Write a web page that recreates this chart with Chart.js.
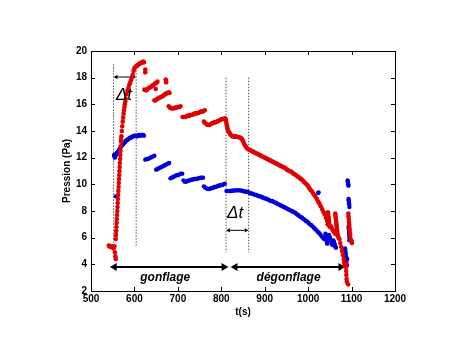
<!DOCTYPE html>
<html><head><meta charset="utf-8">
<script src="https://cdn.jsdelivr.net/npm/chart.js@4/dist/chart.umd.min.js"></script>
<style>html,body{margin:0;padding:0;background:#fff}canvas{display:block}</style>
</head><body>
<canvas id="c" width="474" height="355"></canvas>
<script>
// ---------- data ----------
const redT = [541,543,545,547,549,551,552,554,555,556,557,
 557,557.5,558,558.5,559,559.5,560,560.5,561,561.5,562,562.5,563,563.5,564,564.5,565,565.5,566,566.5,567,567.5,568,568.5,569,569.5,
 570,571,572,573,574,575,576,577,578,579,580,
 582,584,586,588,590,592,594,596,598,600,602,604,606,608,610,612,614,616,618,620,622,
 625,625,
 623,626,629,632,635,638,641,644,647,650,653,649,
 646,649,652,655,658,661,664,667,670,673,676,679,681,672,673,673,
 679,682,685,688,691,694,697,700,703,706,
 711,714,717,720,723,726,729,732,735,738,741,744,747,750,753,756,759,762,
 760,763,766,769,772,775,778,781,784,787,790,793,796,799,802,805,808,
 810,811,812,813,814,815,816,818,820,822,
 825,828,831,834,837,840,843,846,848,850,852,854,856,858,861,864,867,870,873,876,879,882,885,888,891,894,897,900,903,906,909,912,915,918,921,924,927,930,933,936,939,942,945,948,951,954,957,960,963,966,969,972,975,978,981,984,987,990,993,996,999,1002,1005,1008,1011,1014,1017,1020,1023,1026,1029,1032,1035,1038,1041,1044,
 1045,1045.5,1046,1046.5,1047,1047.5,1048,1048.5,1049,
 1050,1052,1054,1056,1058,1060,
 1062,1062.5,1063,1063.5,1064,1064.5,1065,1065.5,1066,1066.5,1067,1067.5,1068,
 1070,1072,1074,1076,1078,1080,1082,1083,1084,1085,1086,1086.5,1087,1087.5,1088,1088.5,1089,
 1092,1092.5,1093,1093.5,1094,1094.5,1095,1095.5,1096,1097,1098,1099,1100,1101];
const redP = [5.4,5.35,5.3,5.35,5.3,5.25,5.2,5.35,4.9,4.6,4.4,
 5.9,6.2,6.5,6.8,7.1,7.4,7.7,8.0,8.3,8.6,8.9,9.2,9.5,9.8,10.1,10.4,10.7,11.0,11.3,11.6,11.9,12.2,12.5,12.85,13.2,13.4,
 13.6,14.0,14.35,14.7,15.0,15.3,15.55,15.8,16.0,16.2,16.4,
 16.75,17.0,17.2,17.45,17.6,17.8,18.0,18.2,18.5,18.7,18.8,18.85,18.9,18.95,19.0,19.05,19.1,19.1,19.15,19.2,19.15,
 18.4,18.6,
 17.1,17.05,17.1,17.2,17.25,17.3,17.4,17.45,17.55,17.6,17.7,17.15,
 16.3,16.3,16.4,16.45,16.5,16.55,16.6,16.65,16.75,16.8,16.85,16.9,16.85,17.85,17.65,17.75,
 15.85,15.75,15.7,15.7,15.7,15.75,15.75,15.8,15.8,15.85,
 15.05,15.05,15.05,15.1,15.15,15.15,15.2,15.2,15.25,15.3,15.3,15.35,15.35,15.4,15.45,15.45,15.5,15.55,
 14.7,14.6,14.5,14.45,14.45,14.5,14.55,14.6,14.65,14.65,14.7,14.75,14.8,14.85,14.9,14.9,14.95,
 14.9,14.75,14.55,14.4,14.25,14.1,14.0,13.9,13.8,13.7,
 13.6,13.6,13.55,13.6,13.55,13.55,13.5,13.45,13.35,13.25,13.1,12.95,12.85,12.75,12.65,12.6,12.55,12.5,12.45,12.4,12.35,12.3,12.25,12.2,12.15,12.1,12.05,12.0,11.95,11.9,11.85,11.8,11.75,11.7,11.65,11.6,11.55,11.5,11.45,11.4,11.35,11.3,11.25,11.2,11.1,11.05,11.0,10.95,10.9,10.8,10.75,10.7,10.6,10.55,10.45,10.4,10.3,10.2,10.1,10.0,9.9,9.75,9.6,9.5,9.35,9.2,9.05,8.9,8.7,8.55,8.35,8.15,7.95,7.75,7.5,7.25,7.0,
 7.9,7.75,7.6,7.45,7.3,7.15,7.0,6.9,6.8,
 6.85,6.75,6.6,6.5,6.4,6.3,
 7.8,7.65,7.5,7.35,7.2,7.05,6.9,6.75,6.6,6.45,6.3,6.15,6.0,
 5.9,5.6,5.3,5.0,4.7,4.4,4.15,4.0,3.9,4.0,4.1,3.8,3.5,3.2,2.9,2.7,2.5,
 7.8,7.6,7.4,7.2,7.0,6.8,6.6,6.4,6.2,5.9,5.8,5.7,5.6,5.5];

const blueT = [553,554,555,556,557,557,558,560,562,564,566,568,570,572,574,576,578,580,582,584,586,588,590,592,594,596,598,600,602,604,606,608,610,612,614,616,618,620,622,
 625,628,631,634,637,640,643,646,
 650,653,656,659,662,665,668,671,674,677,680,
 683,686,689,692,695,698,701,704,707,710,
 713,716,719,722,725,728,731,734,737,740,743,746,749,752,755,758,
 760,763,766,769,772,775,778,781,784,787,790,793,796,799,802,805,808,
 812,815,818,821,824,827,830,833,836,839,842,845,848,851,854,857,
 860,863,866,869,872,875,878,881,884,887,890,893,896,899,902,905,908,911,914,917,920,923,926,929,932,935,938,941,944,947,950,953,956,959,962,965,968,971,974,977,980,983,986,989,992,995,998,1001,1004,1007,1010,1013,1016,1019,1022,1025,1028,1031,1034,1037,
 1040,1040.5,1041,1041.5,1042,1042.5,1043,1043.5,1044,
 1048,1049,1050,1051,1052,1053,1054,1055,1056,
 1058,1059,1060,1061,1062,1063,1064,
 1023,1024,
 1085,1086,1086.5,1087,1087.5,1088,1088.5,1089,1090,
 1091,1091,1092,1092,1093,1093,1093.5,1094,1094,1094.5,1095,1093,1093.5,1094,1094,1094.5,1095,1095];
const blueP = [12.2,12.1,12.0,12.1,12.2,9.1,12.3,12.35,12.45,12.55,12.65,12.75,12.85,12.95,13.0,13.1,13.15,13.25,13.3,13.35,13.4,13.45,13.5,13.5,13.55,13.6,13.6,13.65,13.65,13.6,13.6,13.65,13.7,13.65,13.65,13.7,13.7,13.7,13.65,
 11.85,11.9,11.9,11.95,12.0,12.05,12.1,12.15,
 11.1,11.15,11.2,11.25,11.3,11.35,11.4,11.45,11.5,11.55,11.6,
 10.45,10.5,10.55,10.6,10.65,10.7,10.7,10.75,10.8,10.8,
 10.3,10.2,10.2,10.25,10.3,10.3,10.35,10.35,10.4,10.4,10.4,10.45,10.45,10.5,10.5,10.5,
 9.85,9.75,9.7,9.65,9.65,9.7,9.7,9.75,9.8,9.8,9.85,9.9,9.9,9.95,9.95,10.0,10.05,
 9.5,9.5,9.5,9.5,9.52,9.52,9.55,9.55,9.55,9.55,9.55,9.55,9.5,9.5,9.45,9.45,
 9.45,9.4,9.35,9.3,9.3,9.25,9.2,9.2,9.15,9.1,9.1,9.05,9.0,8.95,8.95,8.9,8.85,8.8,8.75,8.75,8.7,8.65,8.6,8.55,8.5,8.45,8.4,8.35,8.3,8.25,8.2,8.15,8.1,8.05,8.0,7.95,7.9,7.85,7.75,7.7,7.6,7.55,7.5,7.4,7.35,7.25,7.2,7.1,7.0,6.95,6.85,6.75,6.65,6.55,6.45,6.35,6.25,6.1,6.0,5.9,
 6.3,6.2,6.1,6.0,5.9,5.8,5.7,5.6,5.55,
 6.2,6.1,6.0,5.9,5.8,5.7,5.6,5.5,5.45,
 5.8,5.7,5.6,5.5,5.4,5.3,5.25,
 9.35,9.4,
 5.2,5.0,4.8,4.6,4.4,4.2,4.0,3.9,4.4,
 10.3,10.2,10.1,10.0,9.9,8.9,8.8,8.7,8.6,8.5,8.3,6.8,6.65,6.5,6.35,6.2,6.0,5.8];

const xTicks = [500,600,700,800,900,1000,1100,1200];
const yTicks = [2,4,6,8,10,12,14,16,18,20];

// annotation values (in data units)
const dtLineT = [552,604,811,863];
const dtLineTop = [19.0,19.0,18.0,18.0];
const dtLineBottom = [5.3,5.3,4.9,4.9];
const dtArrowFrom = [558,817];
const dtArrowTo = [598,857];
const dtArrowP = [18.05,6.55];
const dtLabelT = [576,832];
const dtLabelP = [16.7,7.8];
const phaseFrom = [554,832];
const phaseTo = [806,1075];
const phaseP = [3.8,3.8];
const phaseLabels = ['gonflage','dégonflage'];
const phaseLabelT = [671,955];
const phaseLabelP = [3.0,3.0];

// ---------- build ----------
const pts = (T,P) => T.map((t,i)=>({x:t,y:P[i]}));
const datasets = [];
datasets.push({data:pts(redT,redP),backgroundColor:'#e00000',borderColor:'#e00000',pointRadius:2.3,pointBorderWidth:0});
datasets.push({data:pts(blueT,blueP),backgroundColor:'#0000d8',borderColor:'#0000d8',pointRadius:2.2,pointBorderWidth:0});
dtLineT.forEach((t,i)=>datasets.push({data:[{x:t,y:dtLineTop[i]},{x:t,y:dtLineBottom[i]}],showLine:true,borderColor:'#555',borderWidth:1,borderDash:[1.5,1.5],pointRadius:0}));
dtArrowFrom.forEach((t,i)=>datasets.push({data:[{x:t,y:dtArrowP[i]},{x:dtArrowTo[i],y:dtArrowP[i]}],showLine:true,borderColor:'#000',backgroundColor:'#000',borderWidth:1,pointStyle:'triangle',pointRotation:[-90,90],pointRadius:2.5,pointBorderWidth:0}));
phaseFrom.forEach((t,i)=>datasets.push({data:[{x:t,y:phaseP[i]},{x:phaseTo[i],y:phaseP[i]}],showLine:true,borderColor:'#000',backgroundColor:'#000',borderWidth:2,pointStyle:'triangle',pointRotation:[-90,90],pointRadius:4.5,pointBorderWidth:0}));

const F = "'Liberation Sans Narrow','Liberation Sans',Arial,sans-serif";

const framePlugin = {
  id:'frame',
  afterDraw(chart){
    const {ctx, chartArea:a, scales:{x,y}} = chart;
    ctx.save();
    ctx.strokeStyle='#000'; ctx.lineWidth=1;
    ctx.strokeRect(Math.round(a.left)+0.5, Math.round(a.top)+0.5, Math.round(a.right-a.left), Math.round(a.bottom-a.top));
    const L=4;
    ctx.beginPath();
    xTicks.forEach(v=>{const px=Math.round(x.getPixelForValue(v))+0.5;
      ctx.moveTo(px,a.bottom); ctx.lineTo(px,a.bottom-L);
      ctx.moveTo(px,a.top); ctx.lineTo(px,a.top+L);});
    yTicks.forEach(v=>{const py=Math.round(y.getPixelForValue(v))+0.5;
      ctx.moveTo(a.left,py); ctx.lineTo(a.left+L,py);
      ctx.moveTo(a.right,py); ctx.lineTo(a.right-L,py);});
    ctx.stroke();
    // labels
    ctx.fillStyle='#000'; ctx.textAlign='center'; ctx.textBaseline='middle';
    ctx.font="italic 17px 'Liberation Sans',Arial,sans-serif";
    dtLabelT.forEach((t,i)=>ctx.fillText('\u0394t', x.getPixelForValue(t), y.getPixelForValue(dtLabelP[i])));
    ctx.font="italic bold 12px 'Liberation Sans',Arial,sans-serif";
    phaseLabels.forEach((s,i)=>ctx.fillText(s, x.getPixelForValue(phaseLabelT[i]), y.getPixelForValue(phaseLabelP[i])));
    ctx.restore();
  }
};

new Chart(document.getElementById('c'), {
  type:'scatter',
  data:{datasets},
  options:{
    responsive:false, animation:false, events:[],
    layout:{padding:{top:51,right:79,left:0,bottom:0}},
    plugins:{legend:{display:false},tooltip:{enabled:false}},
    scales:{
      x:{type:'linear',min:500,max:1200,
        afterBuildTicks:s=>{s.ticks=xTicks.map(v=>({value:v}));},
        afterFit:s=>{s.height=64;},
        grid:{display:false,drawTicks:false},border:{display:false},
        ticks:{color:'#000',padding:2,font:{family:F,size:10,weight:'bold'},callback:v=>String(v)},
        title:{display:true,text:'t(s)',color:'#000',padding:{top:0,bottom:37},font:{family:F,size:10,weight:'bold'}}},
      y:{type:'linear',min:2,max:20,
        afterBuildTicks:s=>{s.ticks=yTicks.map(v=>({value:v}));},
        afterFit:s=>{s.width=91;},
        grid:{display:false,drawTicks:false},border:{display:false},
        ticks:{color:'#000',padding:4,font:{family:F,size:10,weight:'bold'},callback:v=>String(v)},
        title:{display:true,text:'Pression (Pa)',color:'#000',padding:{top:61,bottom:0},font:{family:F,size:10,weight:'bold'}}}
    }
  },
  plugins:[framePlugin]
});
</script>
</body></html>
